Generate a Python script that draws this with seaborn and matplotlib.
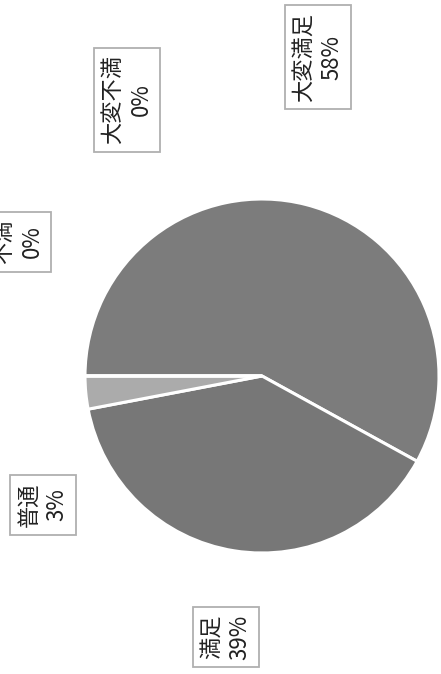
import matplotlib
matplotlib.use("Agg")
import matplotlib.pyplot as plt
import seaborn as sns

# data (survey satisfaction)
categories = ['大変満足', '満足', '普通', '不満', '大変不満']
shares = [58, 39, 3, 0, 0]
slice_colors = ['#7c7c7c', '#777777', '#ababab', '#9a9a9a', '#8a8a8a']

# label box centres in pixels (scan is rotated 90 degrees)
label_xy = [(318, 57), (226, 637), (43, 505), (18, 242), (127, 100)]

sns.set_theme(style="white")
plt.rcParams['font.family'] = ['Noto Sans CJK JP', 'DejaVu Sans']

W, H = 441, 674
fig = plt.figure(figsize=(W / 100, H / 100), dpi=100)
ax = fig.add_axes([0, 0, 1, 1])

# pie sits rotated: first slice starts at 9 o'clock and runs clockwise
ax.pie(shares, colors=slice_colors, startangle=180, counterclock=False,
       center=(262, H - 376), radius=177,
       wedgeprops=dict(edgecolor='white', linewidth=2.2))

# pie() resets the limits, so set pixel coordinates afterwards
ax.set_xlim(0, W)
ax.set_ylim(0, H)
ax.set_aspect('equal')
ax.axis('off')

for cat, val, (x, y) in zip(categories, shares, label_xy):
    ax.text(x, H - y, f"{cat}\n{val}%", rotation=90, ha='center', va='center',
            fontsize=16, color='#222222', linespacing=1.3,
            multialignment='center',
            bbox=dict(boxstyle='square,pad=0.33', facecolor='white',
                      edgecolor='#b0b0b0', linewidth=1.3))

fig.savefig("out.png", dpi=100, facecolor='white')
